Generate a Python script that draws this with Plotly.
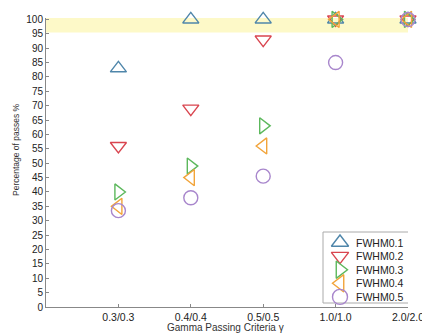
import plotly.graph_objects as go

categories = ["0.3/0.3", "0.4/0.4", "0.5/0.5", "1.0/1.0", "2.0/2.0"]
fwhm01 = [83, 100, 100, 100, 100]
fwhm02 = [56, 69, 93, 100, 100]
fwhm03 = [40, 49, 63, 100, 100]
fwhm04 = [35, 45, 56, 100, 100]
fwhm05 = [33.5, 38, 45.5, 85, 100]
series_names = ["FWHM0.1", "FWHM0.2", "FWHM0.3", "FWHM0.4", "FWHM0.5"]
y_ticks = list(range(0, 101, 5))

positions = list(range(1, len(categories) + 1))
series = [fwhm01, fwhm02, fwhm03, fwhm04, fwhm05]
symbols = ["triangle-up-open", "triangle-down-open", "triangle-right-open", "triangle-left-open", "circle-open"]
colors = ["#4f86aa", "#d9454f", "#5cb85c", "#f2a43a", "#a886cc"]

W, H = 422, 334
ML, MR, MT, MB = 46, 14, 18, 27
PW, PH = W - ML - MR, H - MT - MB


def px(xp):
    return (xp - ML) / PW


def py(yp):
    return (H - MB - yp) / PH


fig = go.Figure()
fig.add_shape(type="rect", xref="x", yref="y", x0=0, x1=5, y0=95.5, y1=100.5,
              fillcolor="#fdf9c8", line_width=0, layer="below")
for name, vals, sym, col in zip(series_names, series, symbols, colors):
    fig.add_trace(go.Scatter(x=positions, y=vals, mode="markers", name=name,
                             marker=dict(symbol=sym, size=14, color=col, line=dict(width=1.4, color=col)),
                             cliponaxis=False, showlegend=False))

# compact legend drawn on a pixel-coordinate overlay axis
LX0, LX1, LY0, LY1 = 323, 409, 232, 303
item_y0, item_dy = 242.5, 13.6
fig.add_shape(type="rect", xref="x2", yref="y2", x0=LX0, x1=LX1, y0=LY0, y1=LY1,
              fillcolor="white", line=dict(color="#aaa", width=1), layer="below")
for i, (name, sym, col) in enumerate(zip(series_names, symbols, colors)):
    yy = item_y0 + item_dy * i
    fig.add_trace(go.Scatter(x=[LX0 + 17], y=[yy], xaxis="x2", yaxis="y2", mode="markers",
                             marker=dict(symbol=sym, size=15, color=col, line=dict(width=1.4, color=col)),
                             cliponaxis=False, showlegend=False, hoverinfo="skip"))
    fig.add_annotation(x=px(LX0 + 31), y=py(yy), xref="paper", yref="paper", text=name, showarrow=False,
                       xanchor="left", yanchor="middle", font=dict(size=10.5, color="#222"))

# axis titles
fig.add_annotation(x=px(16), y=py(150), xref="paper", yref="paper", text="Percentage of passes %",
                   textangle=-90, showarrow=False, font=dict(size=8.5, color="#333"),
                   xanchor="center", yanchor="middle")
fig.add_annotation(x=px(225), y=py(327), xref="paper", yref="paper", text="Gamma Passing Criteria γ",
                   showarrow=False, font=dict(size=10, color="#333"), xanchor="center", yanchor="middle")

fig.update_layout(
    width=W, height=H,
    margin=dict(l=ML, r=MR, t=MT, b=MB, autoexpand=False),
    paper_bgcolor="white", plot_bgcolor="white",
    font=dict(family="Liberation Sans, Arial", size=10, color="#222"),
    showlegend=False,
    xaxis=dict(range=[0, 5], tickvals=positions, ticktext=categories,
               showline=True, linecolor="#888", linewidth=1, ticks="inside", ticklen=3,
               tickcolor="#888", showgrid=False, zeroline=False, tickfont=dict(size=10.5),
               ticklabeloverflow="allow"),
    yaxis=dict(range=[0, 100.5], tickvals=y_ticks,
               showline=True, linecolor="#888", linewidth=1, ticks="inside", ticklen=3,
               tickcolor="#888", showgrid=False, zeroline=False,
               tickfont=dict(size=10), ticklabeloverflow="allow"),
    xaxis2=dict(range=[ML, W - MR], overlaying="x", visible=False, fixedrange=True),
    yaxis2=dict(range=[H - MB, MT], overlaying="y", visible=False, fixedrange=True),
)
fig.write_html("out.html", config={"displayModeBar": False},
               post_script="document.body.style.margin='0';document.body.style.overflow='hidden';")
